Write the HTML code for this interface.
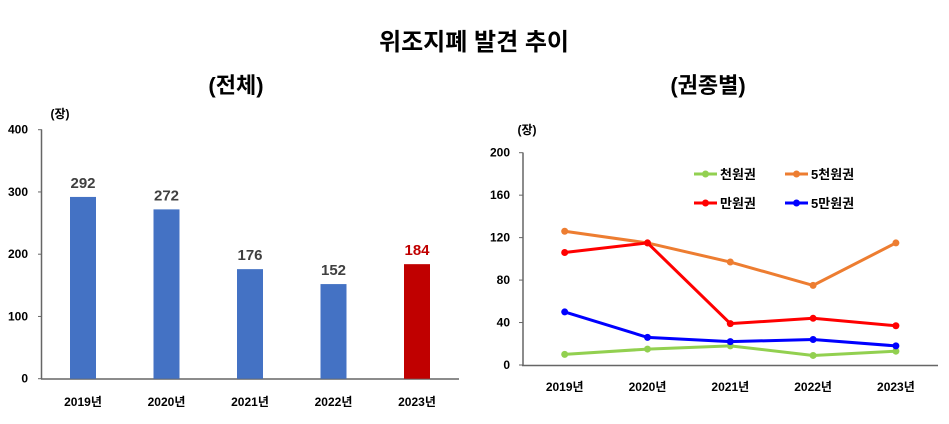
<!DOCTYPE html>
<html><head><meta charset="utf-8"><style>
body{margin:0;background:#fff;width:949px;height:419px;overflow:hidden}
text{font-family:"Liberation Sans","Noto Sans CJK KR",sans-serif;font-weight:bold}
</style></head><body>
<svg id="svg" width="949" height="419" xmlns="http://www.w3.org/2000/svg">
<text x="474" y="50" font-size="24" text-anchor="middle" fill="#000">위조지폐 발견 추이</text>
<text x="236" y="93" font-size="22" text-anchor="middle" fill="#000">(전체)</text>
<text x="708" y="93" font-size="22" text-anchor="middle" fill="#000">(권종별)</text>
<text x="60" y="118" font-size="12" text-anchor="middle" fill="#000">(장)</text>
<text x="527" y="134" font-size="12" text-anchor="middle" fill="#000">(장)</text>
<g id="left"></g><g id="right"></g>
</svg>
<script>
const years=["2019년","2020년","2021년","2022년","2023년"];
const totals=[292,272,176,152,184];
const leftTicks=[0,100,200,300,400];
const rightTicks=[0,40,80,120,160,200];
const s1000=[10,15,18,9,13];
const s5000=[126,115,97,75,115];
const s10000=[106,115,39,44,37];
const s50000=[50,26,22,24,18];
const NS="http://www.w3.org/2000/svg";
function mk(p,t,a){const e=document.createElementNS(NS,t);for(const k in a)e.setAttribute(k,a[k]);p.appendChild(e);return e;}
// left
const L=document.getElementById('left');
const ly=v=>378.7-v*(249/400), lx=i=>83+i*83.5;
mk(L,'line',{x1:41.5,y1:129.5,x2:41.5,y2:379,stroke:'#666','stroke-width':1.5});
mk(L,'line',{x1:41,y1:379,x2:459,y2:379,stroke:'#666','stroke-width':1.5});
leftTicks.forEach(t=>{
 const tk=mk(L,'line',{x1:38,y1:ly(t),x2:42,y2:ly(t),stroke:'#666'});
 
 const tl=mk(L,'text',{x:28,y:ly(t)+4,'font-size':12,'text-anchor':'end'});tl.textContent=t;
 
});
totals.forEach((v,i)=>{
 const last=i===totals.length-1;
 const b=mk(L,'rect',{x:lx(i)-13,y:ly(v),width:26,height:ly(0)-ly(v),fill:last?'#c00000':'#4472c4'});
 
 
 const t=mk(L,'text',{x:lx(i),y:ly(v)-9,'font-size':15,'text-anchor':'middle',fill:last?'#c00000':'#404040'});t.textContent=v;
 
 const xl=mk(L,'text',{x:lx(i),y:406,'font-size':12,'text-anchor':'middle'});xl.textContent=years[i];
 
});
// right
const R=document.getElementById('right');
const ry=v=>365-v*(212.3/200), rx=i=>564.7+i*82.8;
mk(R,'line',{x1:523,y1:152.5,x2:523,y2:365.5,stroke:'#666','stroke-width':1.5});
mk(R,'line',{x1:522,y1:365.5,x2:938,y2:365.5,stroke:'#666','stroke-width':1.5});
rightTicks.forEach(t=>{
 const tk=mk(R,'line',{x1:519,y1:ry(t),x2:523,y2:ry(t),stroke:'#666'});
 
 const tl=mk(R,'text',{x:510,y:ry(t)+4,'font-size':12,'text-anchor':'end'});tl.textContent=t;
 
});
years.forEach((y,i)=>{
 const xl=mk(R,'text',{x:rx(i),y:391,'font-size':12,'text-anchor':'middle'});xl.textContent=y;
 
});
const series=[[s1000,'#92d050','천원권','thousand'],[s5000,'#ed7d31','5천원권','five-thousand'],[s10000,'#ff0000','만원권','ten-thousand'],[s50000,'#0000ff','5만원권','fifty-thousand']];
series.forEach(([d,c,n,k])=>{
 const pl=mk(R,'polyline',{points:d.map((v,i)=>rx(i)+','+ry(v)).join(' '),fill:'none',stroke:c,'stroke-width':3});
 
 d.forEach((v,i)=>{const p=mk(R,'circle',{cx:rx(i),cy:ry(v),r:3.5,fill:c});
  });
});
const legPos=[[694,174],[785,174],[694,203],[785,203]];
series.forEach(([d,c,n,k],j)=>{
 const [x,y]=legPos[j];
 const g=mk(R,'g',{});
 
 mk(g,'line',{x1:x,y1:y,x2:x+23,y2:y,stroke:c,'stroke-width':3});
 mk(g,'circle',{cx:x+11.5,cy:y,r:3.5,fill:c});
 const t=mk(g,'text',{x:x+26,y:y+5,'font-size':13});t.textContent=n;
});
</script>
</body></html>
